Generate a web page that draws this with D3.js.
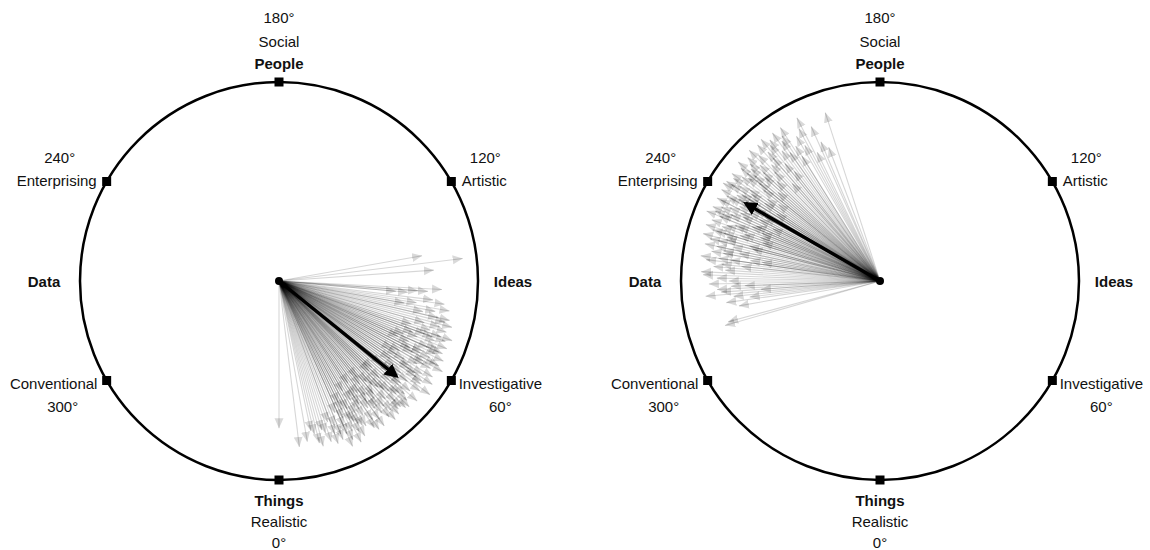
<!DOCTYPE html>
<head>
<style type="text/css">
    body {
      font-family: "Liberation Sans", Arial, sans-serif;
      margin: 0;
      background: #fff;
    }
    text { font-size: 15px; fill: #111; }
</style>
</head>
<script src="https://d3js.org/d3.v7.min.js"></script>
<body>
    <svg width="1150" height="550"></svg>
    <script>
        // arrow angles (deg, 0 = Things/Realistic, counter-clockwise) and lengths (share of radius)
        var leftAngles = [97,100,94,87,85,85,86,86,80,81,80,77,0,7,12,14,16,20,22,24,27,29,36,40,46,53,61,71,
            76,75,74,73,72,71,70,70,69,68,68,67,66,66,65,65,64,64,63,62,62,61,60,60,59,58,58,57,56,56,55,55,54,53,52,52,
            51,50,50,49,48,48,47,46,46,45,45,44,43,43,42,41,41,40,39,39,38,37,37,36,35,35,34,33,33,32,31,31,30,29,28,28,
            27,26,25,25,24,23,22,21,20,19,18,17,15,13,10,83,82,79,78,77,74,72,69,67,63,59,54,47,42,38,34,30,26,
            70,66,63,60,57,55,52,49,47,44,42,40,38,36,34,32,30,28,26,24,65,58,51,45,39,33,62,56,50,44];
        var leftLengths = [0.93,0.73,0.78,0.82,0.59,0.65,0.70,0.75,0.64,0.70,0.87,0.88,0.74,0.84,0.77,0.84,0.78,0.87,0.83,0.91,0.91,0.89,0.90,0.91,0.91,0.95,0.94,0.92,
            0.86,0.90,0.84,0.88,0.80,0.86,0.89,0.78,0.84,0.91,0.75,0.86,0.82,0.90,0.72,0.87,0.80,0.92,0.85,0.76,0.89,0.83,0.70,0.88,0.81,0.91,0.74,0.86,0.79,0.93,0.68,0.84,0.88,0.77,0.82,0.90,
            0.72,0.86,0.80,0.92,0.75,0.85,0.88,0.70,0.82,0.78,0.90,0.84,0.73,0.88,0.80,0.86,0.67,0.82,0.76,0.88,0.84,0.72,0.80,0.86,0.69,0.78,0.84,0.74,0.88,0.80,0.70,0.85,0.77,0.82,0.73,0.86,
            0.79,0.84,0.76,0.88,0.80,0.72,0.86,0.78,0.82,0.75,0.85,0.80,0.86,0.79,0.82,0.78,0.84,0.80,0.74,0.82,0.76,0.70,0.72,0.68,0.74,0.66,0.72,0.64,0.70,0.66,0.62,0.64,0.68,
            0.82,0.88,0.80,0.84,0.78,0.88,0.74,0.80,0.83,0.76,0.90,0.74,0.80,0.75,0.90,0.76,0.84,0.80,0.72,0.84,0.66,0.70,0.66,0.64,0.62,0.70,0.91,0.83,0.76,0.88];

        var rightAngles = [198,207,204,208,203,201,213,216,220,225,215,230,238,248,252,262,268,273,276,277,274,286,285,272,261,261,
            210,212,214,217,218,219,221,222,223,224,226,227,228,229,230,231,232,233,234,235,236,236,237,238,239,240,240,241,242,243,243,244,245,246,246,247,248,249,250,250,
            251,252,253,254,255,255,256,257,258,259,260,260,262,263,264,265,266,267,269,270,271,272,274,275,278,280,
            226,229,233,237,241,244,248,252,256,218,222,212,209,206,231,239,247,253,259,
            228,232,235,238,241,244,247,250,253,256,224,221,234,242,249,255,258,262,237,245,231,227,240,251,264,219,215,243,236,246];
        var rightLengths = [0.89,0.92,0.85,0.87,0.76,0.72,0.92,0.92,0.93,0.93,0.79,0.93,0.93,0.94,0.92,0.91,0.89,0.82,0.74,0.66,0.60,0.81,0.79,0.75,0.66,0.60,
            0.84,0.80,0.88,0.82,0.90,0.76,0.86,0.92,0.80,0.88,0.84,0.91,0.78,0.86,0.82,0.90,0.74,0.87,0.92,0.80,0.85,0.70,0.89,0.78,0.84,0.92,0.72,0.86,0.80,0.90,0.68,0.84,0.76,0.92,0.82,0.70,0.87,0.78,0.90,0.64,
            0.84,0.74,0.88,0.80,0.92,0.68,0.84,0.76,0.90,0.72,0.86,0.80,0.76,0.88,0.70,0.84,0.78,0.90,0.82,0.76,0.86,0.68,0.80,0.88,0.78,0.72,
            0.72,0.68,0.64,0.62,0.66,0.60,0.64,0.62,0.66,0.70,0.66,0.74,0.78,0.72,0.78,0.76,0.86,0.82,0.80,
            0.88,0.84,0.90,0.82,0.88,0.78,0.90,0.82,0.86,0.88,0.76,0.82,0.70,0.74,0.76,0.80,0.84,0.82,0.92,0.88,0.86,0.80,0.82,0.72,0.80,0.88,0.86,0.92,0.78,0.68];

        // mean vector of each panel
        var meanAngles = [51, 240];
        var meanLengths = [0.76, 0.78];

        var tickAngles = [0, 60, 120, 180, 240, 300];
        var themes = ["Realistic", "Investigative", "Artistic", "Social", "Enterprising", "Conventional"];
        var axisNames = [
            {angle: 0, name: "Things"},
            {angle: 90, name: "Ideas"},
            {angle: 180, name: "People"},
            {angle: 270, name: "Data"}
        ];

        var radius = 199,
            centers = [[279, 281], [880, 281]];

        var angle = d3.scaleLinear().domain([0, 360]).range([0, 2 * Math.PI]);
        var rScale = d3.scaleLinear().domain([0, 1]).range([0, radius]);

        function px(a, l) { return rScale(l) * Math.sin(angle(a)); }
        function py(a, l) { return rScale(l) * Math.cos(angle(a)); }

        var svg = d3.select("svg");
        var defs = svg.append("defs");

        defs.append("marker")
            .attr("id", "head")
            .attr("viewBox", "0 -5 10 10")
            .attr("refX", 10).attr("refY", 0)
            .attr("markerWidth", 10).attr("markerHeight", 10)
            .attr("markerUnits", "userSpaceOnUse")
            .attr("orient", "auto")
          .append("path")
            .attr("d", "M0,-4.5L10,0L0,4.5Z")
            .style("fill", "#000")
            .style("fill-opacity", 0.15);

        defs.append("marker")
            .attr("id", "bighead")
            .attr("viewBox", "0 -5 10 10")
            .attr("refX", 8).attr("refY", 0)
            .attr("markerWidth", 14).attr("markerHeight", 14)
            .attr("markerUnits", "userSpaceOnUse")
            .attr("orient", "auto")
          .append("path")
            .attr("d", "M0,-5L10,0L0,5Z")
            .style("fill", "#000");

        var panels = [
            {angles: leftAngles, lengths: leftLengths},
            {angles: rightAngles, lengths: rightLengths}
        ];

        // label placement around each tick, offsets from the tick
        var labelPos = {
            0:   [{dx: 0, dy: 20, bold: true}, {dx: 0, dy: 41}, {dx: 0, dy: 62}],
            60:  [{dx: 49, dy: 3}, {dx: 49, dy: 26}],
            120: [{dx: 34, dy: -24}, {dx: 33, dy: -1}],
            180: [{dx: 0, dy: -65}, {dx: 0, dy: -41}, {dx: 0, dy: -19, bold: true}],
            240: [{dx: -47, dy: -24}, {dx: -50, dy: -1}],
            300: [{dx: -53, dy: 3}, {dx: -44, dy: 26}]
        };

        panels.forEach(function(p, i) {
            var g = svg.append("g")
                .attr("transform", "translate(" + centers[i][0] + "," + centers[i][1] + ")");

            var data = p.angles.map(function(a, j) { return {a: a, l: p.lengths[j]}; });

            g.selectAll(".arrow")
                .data(data)
                .enter().append("line")
                .attr("class", "arrow")
                .attr("x1", 0).attr("y1", 0)
                .attr("x2", function(d) { return px(d.a, d.l); })
                .attr("y2", function(d) { return py(d.a, d.l); })
                .style("stroke", "#000")
                .style("stroke-opacity", 0.16)
                .style("stroke-width", 1.1)
                .attr("marker-end", "url(#head)");

            g.append("line")
                .attr("x1", 0).attr("y1", 0)
                .attr("x2", px(meanAngles[i], meanLengths[i]))
                .attr("y2", py(meanAngles[i], meanLengths[i]))
                .style("stroke", "#000")
                .style("stroke-width", 3.5)
                .attr("marker-end", "url(#bighead)");

            g.append("circle")
                .attr("r", 4)
                .style("fill", "#000");

            g.append("circle")
                .attr("r", radius)
                .style("fill", "none")
                .style("stroke", "#000")
                .style("stroke-width", 2.5);

            g.selectAll(".tick")
                .data(tickAngles)
                .enter().append("rect")
                .attr("class", "tick")
                .attr("x", function(d) { return px(d, 1) - 4.5; })
                .attr("y", function(d) { return py(d, 1) - 4.5; })
                .attr("width", 9).attr("height", 9)
                .style("fill", "#000");

            tickAngles.forEach(function(t, k) {
                var lines;
                if (t === 0) lines = ["Things", themes[k], t + "°"];
                else if (t === 180) lines = [t + "°", themes[k], "People"];
                else if (t === 120 || t === 240) lines = [t + "°", themes[k]];
                else lines = [themes[k], t + "°"];
                var x0 = px(t, 1), y0 = py(t, 1);
                lines.forEach(function(txt, m) {
                    var pos = labelPos[t][m];
                    g.append("text")
                        .attr("x", x0 + pos.dx)
                        .attr("y", y0 + pos.dy)
                        .attr("text-anchor", "middle")
                        .attr("dominant-baseline", "central")
                        .style("font-weight", pos.bold ? "bold" : "normal")
                        .text(txt);
                });
            });

            g.selectAll(".axisname")
                .data(axisNames.filter(function(d) { return d.angle % 180 !== 0; }))
                .enter().append("text")
                .attr("class", "axisname")
                .attr("x", function(d) { return px(d.angle, 1) + (d.angle === 90 ? 35 : -36); })
                .attr("y", function(d) { return py(d.angle, 1); })
                .attr("text-anchor", "middle")
                .attr("dominant-baseline", "central")
                .style("font-weight", "bold")
                .text(function(d) { return d.name; });
        });
    </script>
</body>
